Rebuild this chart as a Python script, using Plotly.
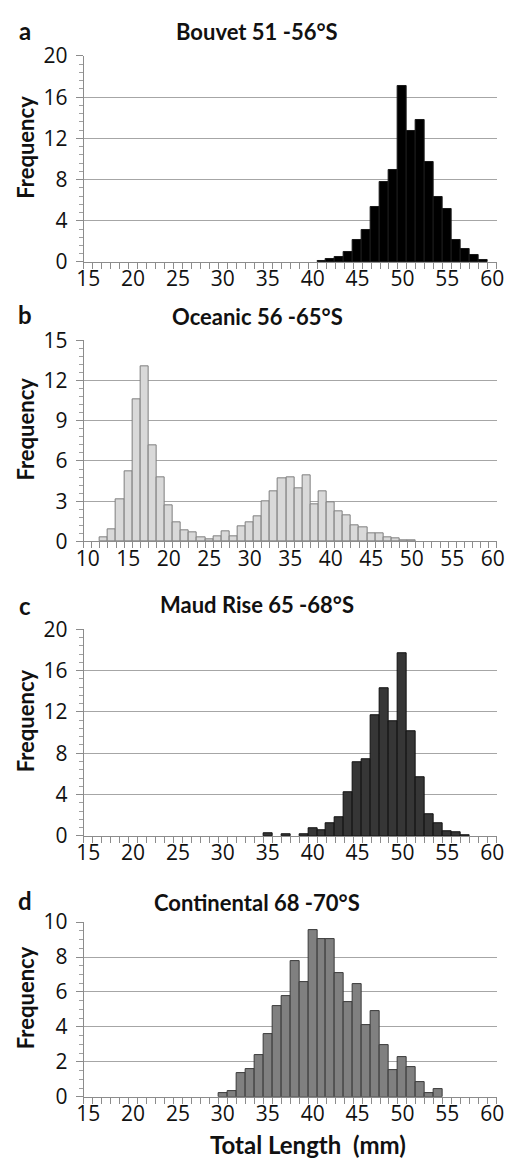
import plotly.graph_objects as go

W, H = 529, 1172

# ---- data (1-mm length classes, frequency %) ----
a_len = [41, 42, 43, 44, 45, 46, 47, 48, 49, 50, 51, 52, 53, 54, 55, 56, 57, 58, 59]
a_freq = [0.1, 0.3, 0.5, 0.95, 2.1, 3.15, 5.35, 7.8, 8.9, 17.1, 12.75, 13.75, 9.7, 6.35, 5.1, 2.15, 1.3, 0.65, 0.2]

b_len = [12, 13, 14, 15, 16, 17, 18, 19, 20, 21, 22, 23, 24, 25, 26, 27, 28, 29, 30, 31,
         32, 33, 34, 35, 36, 37, 38, 39, 40, 41, 42, 43, 44, 45, 46, 47, 48, 49, 50]
b_freq = [0.3, 0.92, 3.15, 5.25, 10.6, 13.05, 7.2, 4.75, 2.7, 1.45, 0.85, 0.68, 0.3, 0.17, 0.36, 0.73, 0.4, 1.1, 1.4, 1.9,
          3.0, 3.75, 4.7, 4.75, 3.95, 4.9, 2.75, 3.75, 2.95, 2.25, 1.95, 1.2, 1.05, 0.63, 0.6, 0.3, 0.2, 0.07, 0.1]

c_len = [35, 37, 39, 40, 41, 42, 43, 44, 45, 46, 47, 48, 49, 50, 51, 52, 53, 54, 55, 56, 57]
c_freq = [0.22, 0.2, 0.2, 0.72, 0.53, 1.26, 1.83, 4.25, 7.1, 7.45, 11.7, 14.3, 11.1, 17.7, 10.1, 5.65, 2.05, 1.26, 0.47, 0.35, 0.1]

d_len = [30, 31, 32, 33, 34, 35, 36, 37, 38, 39, 40, 41, 42, 43, 44, 45, 46, 47, 48, 49, 50, 51, 52, 53, 54]
d_freq = [0.22, 0.34, 1.34, 1.6, 2.36, 3.6, 5.2, 5.77, 7.78, 6.54, 9.53, 9.0, 9.0, 7.1, 5.42, 6.44, 4.12, 4.93, 2.94, 1.53, 2.25, 1.68, 0.84, 0.24, 0.43]

panels = [
    dict(letter="a", title="Bouvet 51 -56°S", x=a_len, y=a_freq, fill="#000000", line="#1a1a1a",
         xmin=15, ymax=20, ydt=4, ymin_dt=0.8, top=42, bot=253, title_y=17, letter_y=16),
    dict(letter="b", title="Oceanic 56 -65°S", x=b_len, y=b_freq, fill="#d9d9d9", line="#7f7f7f",
         xmin=10, ymax=15, ydt=3, ymin_dt=0.6, top=333.3, bot=539.3, title_y=309, letter_y=307),
    dict(letter="c", title="Maud Rise 65 -68°S", x=c_len, y=c_freq, fill="#363636", line="#111111",
         xmin=15, ymax=20, ydt=4, ymin_dt=0.8, top=629.3, bot=841, title_y=604, letter_y=605),
    dict(letter="d", title="Continental 68 -70°S", x=d_len, y=d_freq, fill="#808080", line="#3a3a3a",
         xmin=15, ymax=10, ydt=2, ymin_dt=0.5, top=929.3, bot=1108.3, title_y=909, letter_y=907),
]

FONT = "Lato"
TICKFONT = "Open Sans"
X0, X1 = 78, 504

fig = go.Figure()
annotations = []
layout = {}
for i, p in enumerate(panels):
    n = "" if i == 0 else str(i + 1)
    xa, ya = "x" + n, "y" + n
    fig.add_trace(go.Bar(
        x=p["x"], y=p["y"], width=1.0, xaxis=xa, yaxis=ya,
        marker=dict(color=p["fill"], line=dict(color=p["line"], width=1)),
        showlegend=False, hoverinfo="x+y",
    ))
    layout["xaxis" + n] = dict(
        domain=[X0 / W, X1 / W], anchor=ya, range=[p["xmin"] - 0.5, 60.5],
        tickmode="linear", tick0=p["xmin"], dtick=5, ticks="", showgrid=False,
        showline=True, linecolor="#8c8c8c", linewidth=1, zeroline=False,
        tickfont=dict(family=TICKFONT, size=21, color="#111111"),
        minor=dict(ticks="outside", tick0=p["xmin"] - 0.5, dtick=1, ticklen=6,
                   tickcolor="#8c8c8c", tickwidth=1, showgrid=False),
        ticklabelstandoff=-2, fixedrange=True,
    )
    layout["yaxis" + n] = dict(
        domain=[1 - p["bot"] / H, 1 - p["top"] / H], anchor=xa, range=[0, p["ymax"]],
        tickmode="linear", tick0=0, dtick=p["ydt"], ticks="outside", ticklen=7,
        tickcolor="#8c8c8c", showgrid=True, gridcolor="#a6a6a6", gridwidth=1,
        showline=True, linecolor="#8c8c8c", linewidth=1, zeroline=False,
        tickfont=dict(family=TICKFONT, size=21, color="#111111"),
        minor=dict(ticks="outside", tick0=0, dtick=p["ymin_dt"], ticklen=4,
                   tickcolor="#a0a0a0", tickwidth=1, showgrid=False),
        ticklabelstandoff=4, fixedrange=True,
    )
    # panel title
    annotations.append(dict(text="<b>%s</b>" % p["title"], x=257 / W, y=1 - p["title_y"] / H,
                            xref="paper", yref="paper", showarrow=False, xanchor="center", yanchor="middle",
                            font=dict(family=FONT, size=22, color="#111111")))
    # panel letter
    annotations.append(dict(text="<b>%s</b>" % p["letter"], x=18 / W, y=1 - p["letter_y"] / H,
                            xref="paper", yref="paper", showarrow=False, xanchor="center", yanchor="middle",
                            font=dict(family=FONT, size=24, color="#111111")))
    # y axis title
    yc = (p["top"] + p["bot"]) / 2 - 12
    annotations.append(dict(text="<b>Frequency</b>", x=18 / W, y=1 - yc / H, textangle=-90,
                            xref="paper", yref="paper", showarrow=False, xanchor="center", yanchor="middle",
                            font=dict(family=FONT, size=22, color="#111111")))

annotations.append(dict(text="<b>Total Length  (mm)</b>", x=309 / W, y=1 - 1157 / H,
                        xref="paper", yref="paper", showarrow=False, xanchor="center", yanchor="middle",
                        font=dict(family=FONT, size=24, color="#111111")))

fig.update_layout(
    width=W, height=H, margin=dict(l=0, r=0, t=0, b=0),
    paper_bgcolor="white", plot_bgcolor="white",
    annotations=annotations, bargap=0, **layout,
)

fig.write_html("out.html", config={"displayModeBar": False})
